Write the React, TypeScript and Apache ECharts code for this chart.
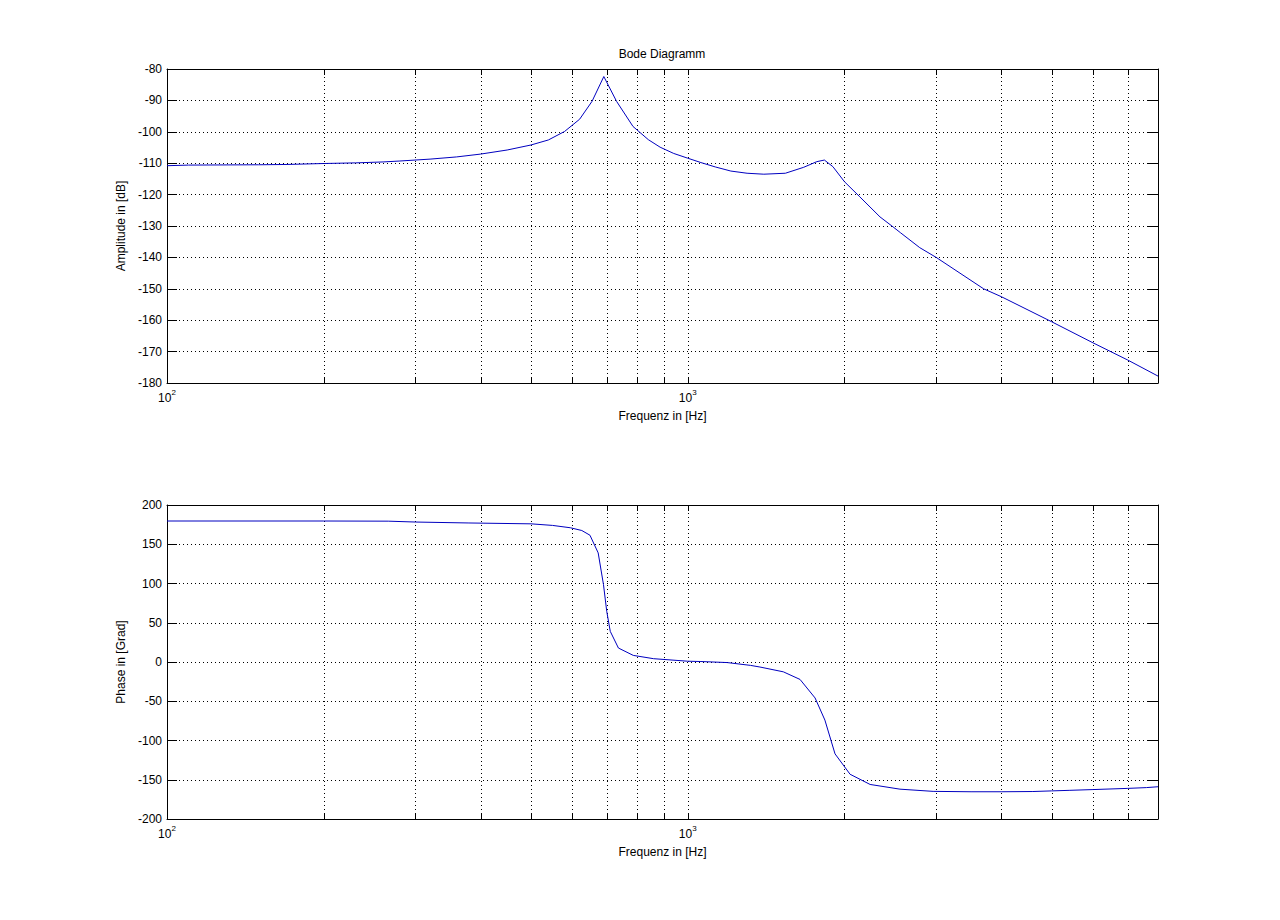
import React, { useEffect, useRef } from "react";
import * as echarts from "echarts";

// ---- data ----
const ampFreq = [100, 110, 150, 170, 200, 230, 260, 280, 320, 360, 400, 450, 500, 540, 580, 620, 655, 690, 730, 785, 840, 885, 940, 1000, 1060, 1130, 1210, 1300, 1400, 1540, 1670, 1770, 1830, 1900, 2000, 2140, 2340, 2480, 2560, 2790, 3000, 3700, 4000, 5000, 6000, 7000, 8000];
const ampDb = [-110.8, -110.6, -110.5, -110.4, -110.1, -109.9, -109.6, -109.3, -108.7, -108.0, -107.1, -105.8, -104.2, -102.6, -99.9, -96.0, -90.3, -82.4, -90.3, -98.3, -102.5, -104.9, -106.9, -108.4, -109.8, -111.2, -112.5, -113.2, -113.5, -113.2, -111.3, -109.5, -109.0, -111.1, -115.9, -120.7, -127.1, -130.3, -132.1, -136.9, -140.0, -150.0, -152.5, -160.5, -167.2, -172.7, -177.8];

const phaseFreq = [100, 200, 266, 300, 380, 500, 550, 595, 626, 649, 673, 689, 699, 710, 736, 786, 860, 1000, 1060, 1190, 1320, 1376, 1526, 1643, 1756, 1834, 1918, 2050, 2240, 2556, 2960, 3500, 4000, 4600, 5000, 5400, 6000, 7000, 7600, 8000];
const phaseDeg = [179.6, 179.6, 179.4, 178.3, 177.1, 176.0, 174.0, 171.0, 167.5, 161.5, 139, 98.5, 64.5, 39, 17.8, 8.4, 4.2, 1.0, 0.6, -0.7, -4.3, -6.4, -12.5, -22.2, -45.8, -74, -117, -143, -156, -162, -164.8, -165.3, -165.3, -165, -164.2, -163.5, -162.5, -161, -160, -158.9];

const freqMin = 100;
const freqMax = 8000;
const freqGridValues = [200, 300, 400, 500, 600, 700, 800, 900, 1000, 2000, 3000, 4000, 5000, 6000, 7000];

const ampMin = -180;
const ampMax = -80;
const ampStep = 10;
const phaseMin = -200;
const phaseMax = 200;
const phaseStep = 50;

const titleText = "Bode Diagramm";
const ampLabel = "Amplitude in [dB]";
const phaseLabel = "Phase in [Grad]";
const freqLabel = "Frequenz in [Hz]";

const FONT = "'Liberation Sans', Arial, Helvetica, sans-serif";
const LINE_COLOR = "#0000c0";

const gridRender = (params: any, api: any) => {
  const v = api.value(0);
  const x = Math.round(api.coord([v, api.value(1)])[0]) + 0.5;
  const cs = params.coordSys;
  const top = cs.y;
  const bottom = cs.y + cs.height;
  return {
    type: "group",
    children: [
      { type: "line", shape: { x1: x, y1: top, x2: x, y2: bottom }, style: { stroke: "#000", lineWidth: 1, lineDash: [1, 3] } },
      { type: "line", shape: { x1: x, y1: bottom, x2: x, y2: bottom - 6 }, style: { stroke: "#000", lineWidth: 1 } },
      { type: "line", shape: { x1: x, y1: top, x2: x, y2: top + 6 }, style: { stroke: "#000", lineWidth: 1 } },
    ],
  };
};

function bottomX(gridIndex: number) {
  return {
    type: "log",
    logBase: 10,
    gridIndex,
    position: "bottom",
    min: freqMin,
    max: freqMax,
    name: freqLabel,
    nameLocation: "middle",
    nameGap: 27,
    nameTextStyle: { color: "#000", fontSize: 12, fontFamily: FONT },
    axisLine: { show: true, onZero: false, lineStyle: { color: "#000", width: 1 } },
    axisTick: { show: false },
    splitLine: { show: false },
    axisLabel: {
      color: "#000",
      margin: 5,
      showMaxLabel: false,
      formatter: (v: number) => `{base|10}{sup|${Math.round(Math.log10(v))}}`,
      rich: {
        base: { fontSize: 12, fontFamily: FONT, color: "#000" },
        sup: { fontSize: 8, fontFamily: FONT, color: "#000", padding: [0, 0, 12, 0] },
      },
    },
  };
}

function topX(gridIndex: number) {
  return {
    type: "log",
    logBase: 10,
    gridIndex,
    position: "top",
    min: freqMin,
    max: freqMax,
    axisLine: { show: true, onZero: false, lineStyle: { color: "#000", width: 1 } },
    axisTick: { show: false },
    axisLabel: { show: false },
    splitLine: { show: false },
  };
}

function leftY(gridIndex: number, min: number, max: number, step: number, name: string) {
  return {
    type: "value",
    gridIndex,
    position: "left",
    min,
    max,
    interval: step,
    name,
    nameLocation: "middle",
    nameGap: 38,
    nameTextStyle: { color: "#000", fontSize: 12, fontFamily: FONT },
    axisLine: { show: true, onZero: false, lineStyle: { color: "#000", width: 1 } },
    axisTick: { show: true, inside: true, length: 10, lineStyle: { color: "#000" } },
    axisLabel: { color: "#000", fontSize: 12, fontFamily: FONT, margin: 5 },
    splitLine: { show: true, lineStyle: { color: "#000", width: 1, type: [1, 3] } },
  };
}

function rightY(gridIndex: number, min: number, max: number, step: number) {
  return {
    type: "value",
    gridIndex,
    position: "right",
    min,
    max,
    interval: step,
    axisLine: { show: true, onZero: false, lineStyle: { color: "#000", width: 1 } },
    axisTick: { show: true, inside: true, length: 10, lineStyle: { color: "#000" } },
    axisLabel: { show: false },
    splitLine: { show: false },
  };
}

export default function App() {
  const ref = useRef<HTMLDivElement>(null);

  useEffect(() => {
    if (!ref.current) return;
    const chart = echarts.init(ref.current, null, { renderer: "svg" });
    chart.setOption({
      animation: false,
      backgroundColor: "#fff",
      textStyle: { fontFamily: FONT },
      title: {
        text: titleText,
        left: 662,
        top: 48,
        padding: 0,
        textAlign: "center",
        textStyle: { fontSize: 12, fontWeight: "normal", color: "#000", fontFamily: FONT },
      },
      grid: [
        { left: 167, top: 69, width: 991, height: 314 },
        { left: 167, top: 505, width: 991, height: 314 },
      ],
      xAxis: [bottomX(0), topX(0), bottomX(1), topX(1)],
      yAxis: [
        leftY(0, ampMin, ampMax, ampStep, ampLabel),
        rightY(0, ampMin, ampMax, ampStep),
        leftY(1, phaseMin, phaseMax, phaseStep, phaseLabel),
        rightY(1, phaseMin, phaseMax, phaseStep),
      ],
      series: [
        {
          type: "custom",
          xAxisIndex: 0,
          yAxisIndex: 0,
          silent: true,
          z: 1,
          renderItem: gridRender,
          data: freqGridValues.map((f) => [f, ampMin]),
        },
        {
          type: "custom",
          xAxisIndex: 2,
          yAxisIndex: 2,
          silent: true,
          z: 1,
          renderItem: gridRender,
          data: freqGridValues.map((f) => [f, phaseMin]),
        },
        {
          type: "line",
          xAxisIndex: 0,
          yAxisIndex: 0,
          z: 3,
          showSymbol: false,
          symbol: "none",
          silent: true,
          lineStyle: { color: LINE_COLOR, width: 1 },
          data: ampFreq.map((f, i) => [f, ampDb[i]]),
        },
        {
          type: "line",
          xAxisIndex: 2,
          yAxisIndex: 2,
          z: 3,
          showSymbol: false,
          symbol: "none",
          silent: true,
          lineStyle: { color: LINE_COLOR, width: 1 },
          data: phaseFreq.map((f, i) => [f, phaseDeg[i]]),
        },
      ],
    });
    return () => chart.dispose();
  }, []);

  return (
    <div
      ref={ref}
      style={{ position: "absolute", left: 0, top: 0, width: 1280, height: 920, background: "#fff" }}
    />
  );
}
